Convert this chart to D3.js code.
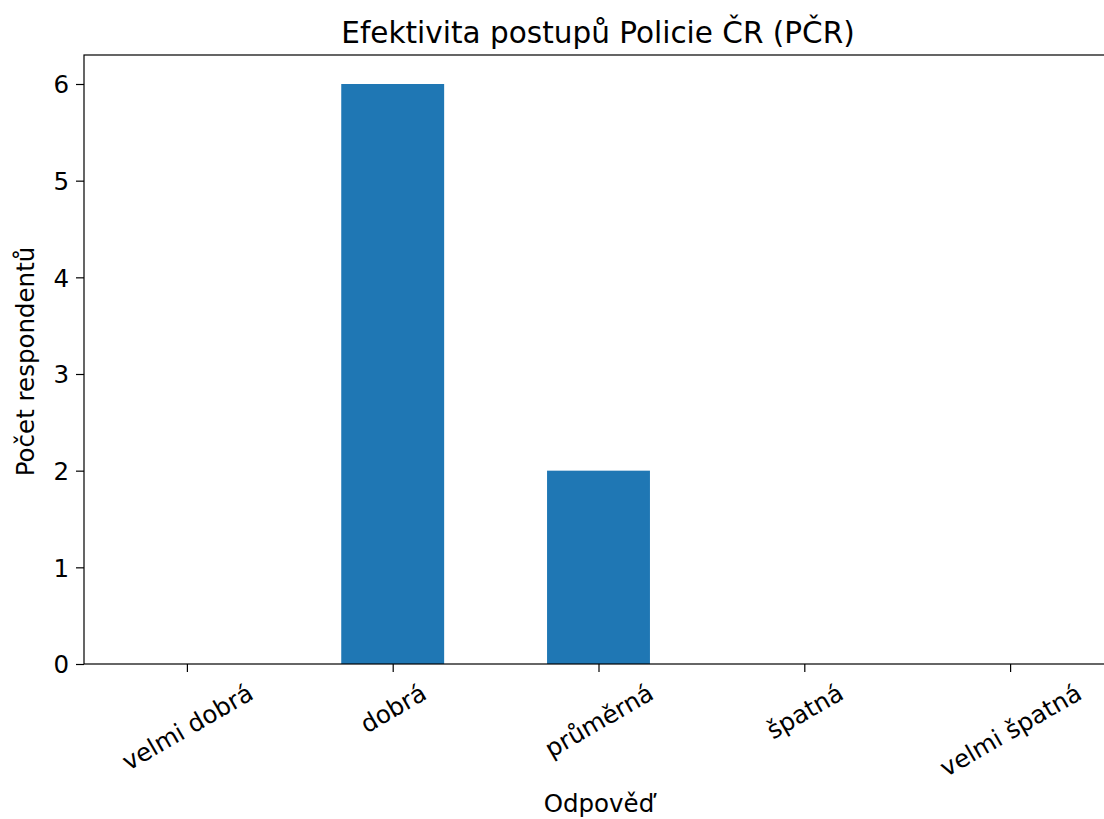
<!DOCTYPE html>
<html><head><meta charset="utf-8">
<script src="https://cdn.jsdelivr.net/npm/d3@7"></script>
<style>
body{margin:0;background:#fff;}
text{font-family:"DejaVu Sans",sans-serif;fill:#000;}
</style></head>
<body><svg id="c" width="1104" height="819"></svg>
<script>
const categories = ["velmi dobrá","dobrá","průměrná","špatná","velmi špatná"];
const values = [0,6,2,0,0];
const yTicks = [0,1,2,3,4,5,6];
const title = "Efektivita postupů Policie ČR (PČR)";
const xLabel = "Odpověď";
const yLabel = "Počet respondentů";

const FS = 24.5;
const svg = d3.select("#c");
const L = 84, R = 1113, T = 55, B = 664;
const x = d3.scaleLinear().domain([-0.5, categories.length - 0.5]).range([L, R]);
const y = d3.scaleLinear().domain([0, 6.3]).range([B, T]);
const barW = (x(1) - x(0)) * 0.5;

svg.selectAll("rect.bar").data(values).enter().append("rect")
  .attr("class","bar")
  .attr("x",(d,i)=>x(i)-barW/2)
  .attr("width",barW)
  .attr("y",d=>y(d))
  .attr("height",d=>y(0)-y(d))
  .attr("fill","#1f77b4");

svg.append("rect").attr("x",L).attr("y",T).attr("width",R-L).attr("height",B-T)
  .attr("fill","none").attr("stroke","#000").attr("stroke-width",1.2);

const yAxis = svg.append("g").attr("transform",`translate(${L},0)`)
  .call(d3.axisLeft(y).tickValues(yTicks).tickSize(8).tickPadding(7).tickFormat(d3.format("d")));
yAxis.select(".domain").remove();
yAxis.selectAll("text").attr("font-size",FS+"px").attr("font-family","DejaVu Sans").attr("dy","0.36em");
yAxis.selectAll("line").attr("stroke","#000").attr("stroke-width",1.2);

const xAxis = svg.append("g").attr("transform",`translate(0,${B})`)
  .call(d3.axisBottom(x).tickValues(d3.range(categories.length)).tickSize(8).tickFormat(i=>categories[i]));
xAxis.select(".domain").remove();
xAxis.selectAll("line").attr("stroke","#000").attr("stroke-width",1.2);
xAxis.selectAll("text")
  .attr("font-size",FS+"px").attr("font-family","DejaVu Sans")
  .attr("text-anchor","middle")
  .attr("dy","0.35em").attr("y",0)
  .each(function(){
    const w = this.getComputedTextLength();
    const off = 16 + (w*0.5 + FS*0.866)/2;
    d3.select(this).attr("transform",`translate(0,${off}) rotate(-30)`);
  });

svg.append("text").attr("x",598).attr("y",43).attr("text-anchor","middle")
  .attr("font-size","29.5px").text(title);
svg.append("text").attr("x",599).attr("y",812).attr("text-anchor","middle")
  .attr("font-size",FS+"px").text(xLabel);
svg.append("text").attr("transform",`translate(34,${(T+B)/2+2}) rotate(-90)`).attr("text-anchor","middle")
  .attr("font-size",FS+"px").text(yLabel);
</script></body></html>
